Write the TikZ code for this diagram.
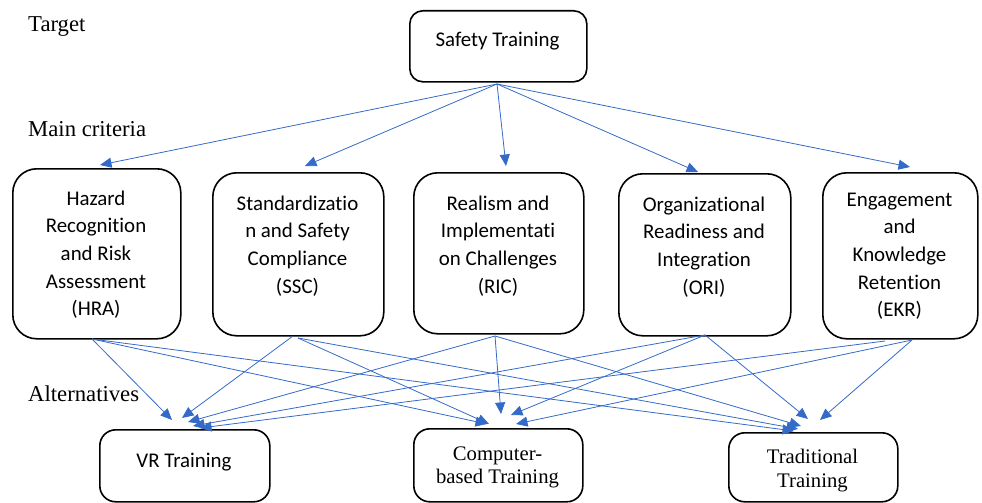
\documentclass[tikz,border=0pt]{standalone}
\usepackage{fontspec}
\setmainfont{Liberation Serif}
\newfontfamily\boxsans{Carlito}[Ligatures={NoCommon}]
\usetikzlibrary{arrows.meta}
\definecolor{linkblue}{RGB}{52,106,200}
% invisible strut that fixes the height of a node's first line
\newcommand\firstln{\rule{0pt}{16pt}}

\begin{document}
\begin{tikzpicture}[x=1pt,y=-1pt,
  box/.style={draw=black, line width=1.6pt, inner sep=0pt, anchor=north west},
  topbox/.style={box, rounded corners=13pt},
  critbox/.style={box, rounded corners=24pt},
  altbox/.style={box, rounded corners=16pt},
  sanstext/.style={font=\boxsans\fontsize{20.9}{27.6}\selectfont, align=center, inner sep=0pt, anchor=north},
  seriftext/.style={font=\fontsize{20.7}{24.5}\selectfont, align=center, inner sep=0pt, anchor=north},
  levellabel/.style={font=\fontsize{22.7}{27}\selectfont, inner sep=0pt, anchor=base west},
  link/.style={draw=linkblue, line width=0.8pt, -{Triangle[length=11.5pt,width=10pt]}},
]
\useasboundingbox (0,0) rectangle (982,503);

% level labels
\node[levellabel] (lblTarget) at (28,31.7) {Target};
\node[levellabel] (lblMain) at (28,136) {Main criteria};
\node[levellabel] (lblAlt) at (28,401.7) {Alternatives};

% goal
\node[topbox, minimum width=177pt, minimum height=71pt] (st) at (409,10) {};
\node[sanstext] (stT) at (497.5,30.5) {\firstln Safety Training};

% criteria
\node[critbox, minimum width=168pt, minimum height=170pt] (hra) at (12,168) {};
\node[sanstext] (hraT) at (96,189) {\firstln Hazard\\Recognition\\and Risk\\Assessment\\(HRA)};
\node[critbox, minimum width=171pt, minimum height=163pt] (ssc) at (212,172) {};
\node[sanstext] (sscT) at (297.5,194) {\firstln Standardizatio\\n and Safety\\Compliance\\(SSC)};
\node[critbox, minimum width=170pt, minimum height=161pt] (ric) at (413,172) {};
\node[sanstext] (ricT) at (498,194) {\firstln Realism and\\Implementati\\on Challenges\\(RIC)};
\node[critbox, minimum width=172pt, minimum height=162pt] (ori) at (618,173) {};
\node[sanstext] (oriT) at (704,195) {\firstln Organizational\\Readiness and\\Integration\\(ORI)};
\node[critbox, minimum width=155pt, minimum height=166pt] (ekr) at (822,172) {};
\node[sanstext] (ekrT) at (899.5,190) {\firstln Engagement\\and\\Knowledge\\Retention\\(EKR)};

% alternatives
\node[altbox, minimum width=170pt, minimum height=72pt] (vr) at (99,429) {};
\node[sanstext] (vrT) at (184,451) {\firstln VR Training};
\node[altbox, minimum width=169pt, minimum height=73pt] (cb) at (413,428) {};
\node[seriftext, font=\fontsize{20.7}{23.5}\selectfont] (cbT) at (497.5,444) {\firstln Computer-\\based Training};
\node[altbox, minimum width=169pt, minimum height=69pt] (trad) at (728,432) {};
\node[seriftext] (tradT) at (812.5,447) {\firstln Traditional\\Training};

% connector end points
\coordinate (stOut) at (497,84);
\coordinate (hraIn) at (100,165);
\coordinate (sscIn) at (305,166);
\coordinate (ricIn) at (506,166);
\coordinate (oriIn) at (698,172);
\coordinate (ekrIn) at (910,167);

\coordinate (hraOut) at (92,339);
\coordinate (sscOutA) at (293,336);
\coordinate (sscOutB) at (298,338);
\coordinate (ricOut) at (495,336);
\coordinate (oriOut) at (705,335);
\coordinate (ekrOutA) at (885,341);
\coordinate (ekrOutB) at (912,340);

\coordinate (vrIn1) at (172,420);
\coordinate (vrIn2) at (182,418);
\coordinate (vrIn3) at (188,422);
\coordinate (vrIn4) at (193,426);
\coordinate (vrIn5) at (200,428);
\coordinate (cbIn1) at (487,424);
\coordinate (cbIn2) at (489,424);
\coordinate (cbIn3) at (501,414);
\coordinate (cbIn4) at (511,415);
\coordinate (cbIn5) at (516,424);
\coordinate (trIn1) at (794,431);
\coordinate (trIn2) at (798,429);
\coordinate (trIn3) at (801,426);
\coordinate (trIn4) at (808,419);
\coordinate (trIn5) at (820,420);

% goal to criteria
\draw[link] (stOut) -- (hraIn);
\draw[link] (stOut) -- (sscIn);
\draw[link] (stOut) -- (ricIn);
\draw[link] (stOut) -- (oriIn);
\draw[link] (stOut) -- (ekrIn);

% criteria to alternatives
\draw[link] (hraOut) -- (vrIn1);
\draw[link] (hraOut) -- (cbIn1);
\draw[link] (hraOut) -- (trIn1);
\draw[link] (sscOutA) -- (vrIn2);
\draw[link] (sscOutB) -- (cbIn2);
\draw[link] (sscOutB) -- (trIn2);
\draw[link] (ricOut) -- (vrIn3);
\draw[link] (ricOut) -- (cbIn3);
\draw[link] (ricOut) -- (trIn3);
\draw[link] (oriOut) -- (vrIn4);
\draw[link] (oriOut) -- (cbIn4);
\draw[link] (oriOut) -- (trIn4);
\draw[link] (ekrOutA) -- (vrIn5);
\draw[link] (ekrOutB) -- (cbIn5);
\draw[link] (ekrOutB) -- (trIn5);
\end{tikzpicture}
\end{document}
